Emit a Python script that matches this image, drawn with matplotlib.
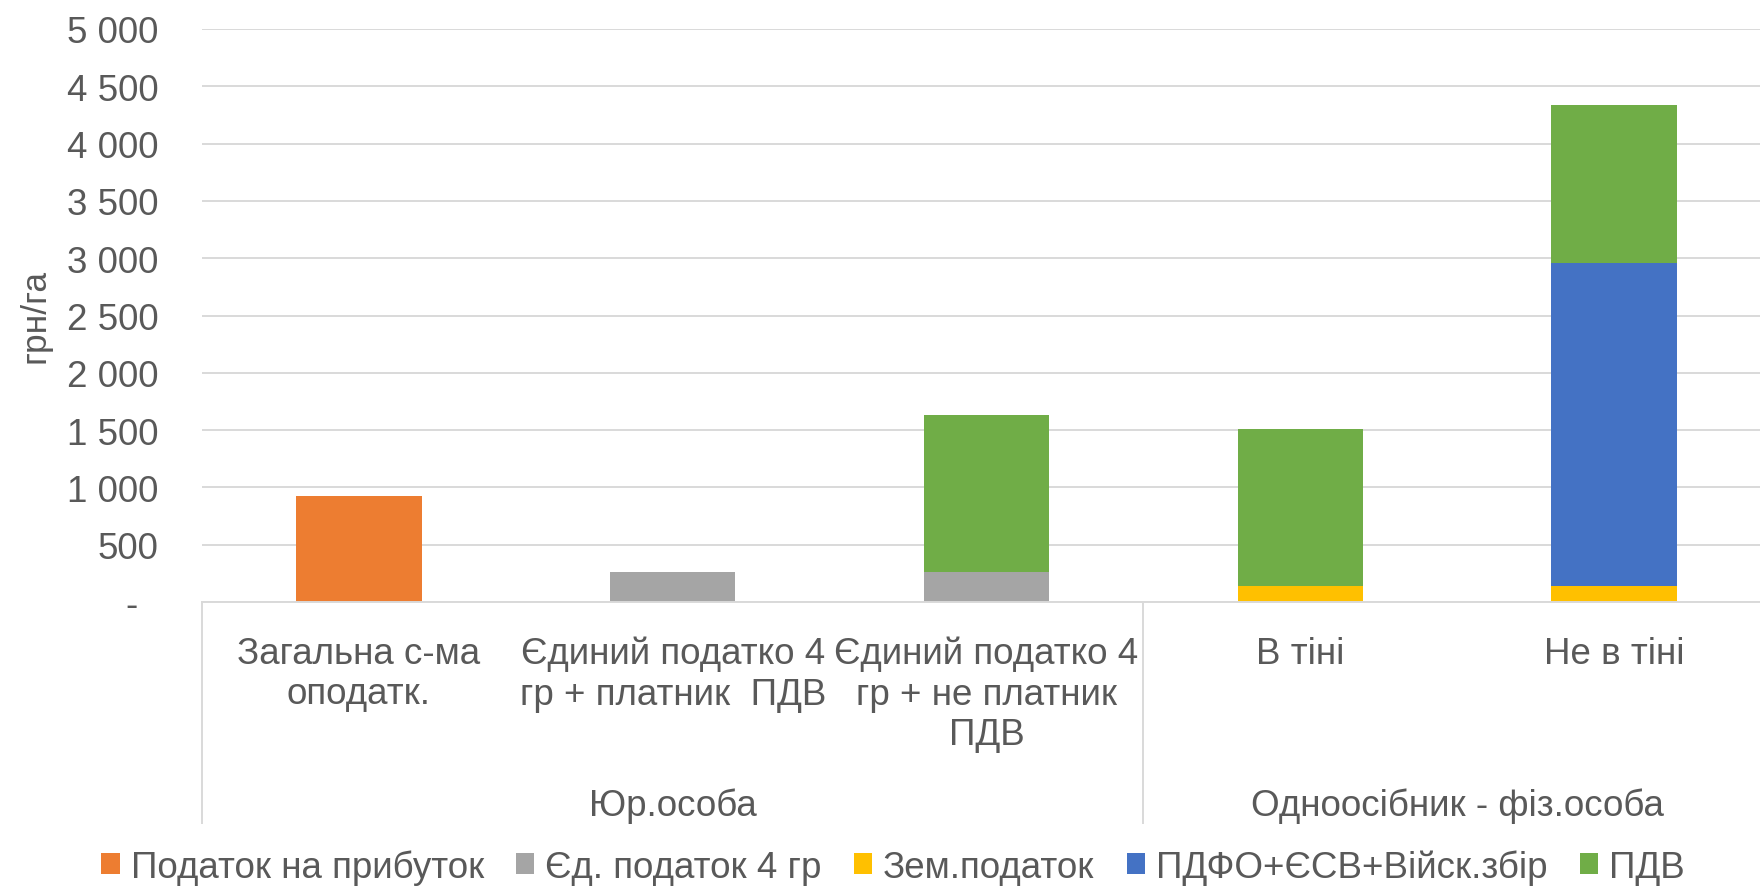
import matplotlib
matplotlib.use("Agg")
import matplotlib.pyplot as plt
import matplotlib.transforms as mtransforms
import numpy as np

plt.rcParams["font.family"] = ["Liberation Sans", "DejaVu Sans"]

categories = ["Загальна с-ма\nоподатк.",
              "Єдиний податко 4\nгр + платник  ПДВ",
              "Єдиний податко 4\nгр + не платник\nПДВ",
              "В тіні",
              "Не в тіні"]
groups = ["Юр.особа", "Одноосібник - фіз.особа"]
group_spans = [(0, 2), (3, 4)]

series_names = ["Податок на прибуток", "Єд. податок 4 гр", "Зем.податок",
                "ПДФО+ЄСВ+Війск.збір", "ПДВ"]
profit_tax = [921, 0, 0, 0, 0]
single_tax = [0, 262, 262, 0, 0]
land_tax = [0, 0, 0, 141, 141]
pdfo_esv = [0, 0, 0, 0, 2816]
vat = [0, 0, 1370, 1369, 1382]
colors = ["#ED7D31", "#A5A5A5", "#FFC000", "#4472C4", "#70AD47"]

yticks = list(range(0, 5001, 500))

text_color = "#595959"
grid_color = "#D9D9D9"
fs = 26.5

W, H = 1760, 887
fig = plt.figure(figsize=(W / 100, H / 100), dpi=100)
ax = fig.add_axes([202 / W, (H - 603) / H, (1771 - 202) / W, (603 - 30) / H])

x = np.arange(len(categories))
bottom = np.zeros(len(categories))
handles = []
for name, vals, c in zip(series_names,
                         [profit_tax, single_tax, land_tax, pdfo_esv, vat],
                         colors):
    b = ax.bar(x, vals, 0.4, bottom=bottom, color=c, label=name, zorder=2)
    handles.append(b)
    bottom += np.array(vals)

ax.set_xlim(-0.5, len(categories) - 0.5)
ax.set_ylim(0, 5000)
ax.set_yticks(yticks)
ax.set_yticklabels(["-  " if v == 0 else f"{v:,}".replace(",", " ") for v in yticks])
ax.tick_params(axis="y", length=0, pad=31.5, labelsize=fs, labelcolor=text_color)
ax.set_xticks([])
ax.yaxis.grid(True, color=grid_color, linewidth=1.4)
ax.set_axisbelow(True)
for s in ["top", "right", "left"]:
    ax.spines[s].set_visible(False)
ax.spines["bottom"].set_color(grid_color)
ax.spines["bottom"].set_linewidth(1.4)

# category and group labels under the axis
trans = mtransforms.blended_transform_factory(ax.transData, fig.transFigure)
for i, lab in enumerate(categories):
    ax.text(i, (H - 637) / H, lab, transform=trans, ha="center", va="top",
            fontsize=fs, color=text_color, linespacing=1.2)
for (a, b), g in zip(group_spans, groups):
    ax.text((a + b) / 2, (H - 816) / H, g, transform=trans, ha="center",
            va="baseline", fontsize=fs, color=text_color)
for sx in [-0.5, 2.5, len(categories) - 0.5]:
    ax.plot([sx, sx], [(H - 603) / H, (H - 824) / H], transform=trans,
            color=grid_color, linewidth=1.4, clip_on=False)

fig.text(35 / W, (H - 316) / H, "грн/га", rotation=90, ha="center",
         va="center", fontsize=fs - 1, color=text_color)

leg = fig.legend(handles=handles, loc="center", bbox_to_anchor=(893 / W, (H - 868) / H),
                 ncol=5, frameon=False, fontsize=fs, handlelength=0.5,
                 handleheight=0.5, handletextpad=0.3, columnspacing=0.87,
                 borderpad=0, borderaxespad=0)
for t in leg.get_texts():
    t.set_color(text_color)

fig.savefig("out.png", dpi=100)
